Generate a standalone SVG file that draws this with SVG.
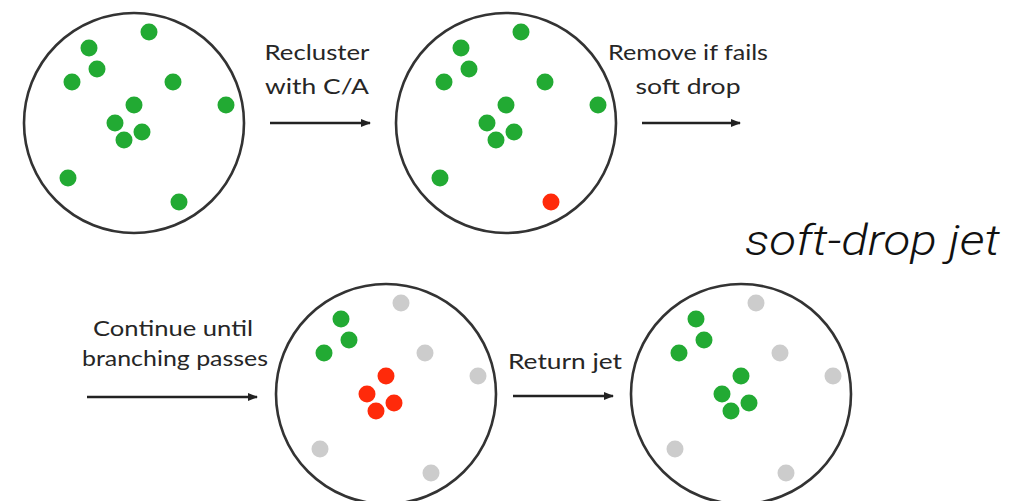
<svg xmlns="http://www.w3.org/2000/svg" width="1024" height="501" viewBox="0 0 1024 501">
<style>
.jet{fill:#fff;stroke:#333;stroke-width:2.6}
.g{fill:#22aa33}
.r{fill:#ff2a0a}
.k{fill:#cccccc}
.lbl{font-family:Lato,"Open Sans","Liberation Sans",sans-serif;font-size:22px;fill:#262626;text-anchor:middle}
.arr{stroke:#222;stroke-width:2.4;fill:none;marker-end:url(#ah)}
.title{font-family:Roboto,"Liberation Sans",sans-serif;font-weight:300;font-style:italic;font-size:42px;fill:#111}
</style>
<defs>
<marker id="ah" markerWidth="10" markerHeight="8" refX="9" refY="4" orient="auto" markerUnits="userSpaceOnUse">
<path d="M0,0 L10,4 L0,8 Z" fill="#222"/>
</marker>
</defs>
<rect width="1024" height="501" fill="#fff"/>
<g id="jet1" transform="translate(134,123)">
<circle class="jet" r="110"/>
<circle class="g" cx="15" cy="-91" r="8.5"/>
<circle class="g" cx="-45" cy="-75" r="8.5"/>
<circle class="g" cx="-37" cy="-54" r="8.5"/>
<circle class="g" cx="-62" cy="-41" r="8.5"/>
<circle class="g" cx="39" cy="-41" r="8.5"/>
<circle class="g" cx="92" cy="-18" r="8.5"/>
<circle class="g" cx="0" cy="-18" r="8.5"/>
<circle class="g" cx="-19" cy="0" r="8.5"/>
<circle class="g" cx="8" cy="9" r="8.5"/>
<circle class="g" cx="-10" cy="17" r="8.5"/>
<circle class="g" cx="-66" cy="55" r="8.5"/>
<circle class="g" cx="45" cy="79" r="8.5"/>
</g>
<g id="jet2" transform="translate(506,123)">
<circle class="jet" r="110"/>
<circle class="g" cx="15" cy="-91" r="8.5"/>
<circle class="g" cx="-45" cy="-75" r="8.5"/>
<circle class="g" cx="-37" cy="-54" r="8.5"/>
<circle class="g" cx="-62" cy="-41" r="8.5"/>
<circle class="g" cx="39" cy="-41" r="8.5"/>
<circle class="g" cx="92" cy="-18" r="8.5"/>
<circle class="g" cx="0" cy="-18" r="8.5"/>
<circle class="g" cx="-19" cy="0" r="8.5"/>
<circle class="g" cx="8" cy="9" r="8.5"/>
<circle class="g" cx="-10" cy="17" r="8.5"/>
<circle class="g" cx="-66" cy="55" r="8.5"/>
<circle class="r" cx="45" cy="79" r="8.5"/>
</g>
<g id="jet3" transform="translate(386,394)">
<circle class="jet" r="110"/>
<circle class="k" cx="15" cy="-91" r="8.5"/>
<circle class="g" cx="-45" cy="-75" r="8.5"/>
<circle class="g" cx="-37" cy="-54" r="8.5"/>
<circle class="g" cx="-62" cy="-41" r="8.5"/>
<circle class="k" cx="39" cy="-41" r="8.5"/>
<circle class="k" cx="92" cy="-18" r="8.5"/>
<circle class="r" cx="0" cy="-18" r="8.5"/>
<circle class="r" cx="-19" cy="0" r="8.5"/>
<circle class="r" cx="8" cy="9" r="8.5"/>
<circle class="r" cx="-10" cy="17" r="8.5"/>
<circle class="k" cx="-66" cy="55" r="8.5"/>
<circle class="k" cx="45" cy="79" r="8.5"/>
</g>
<g id="jet4" transform="translate(741,394)">
<circle class="jet" r="110"/>
<circle class="k" cx="15" cy="-91" r="8.5"/>
<circle class="g" cx="-45" cy="-75" r="8.5"/>
<circle class="g" cx="-37" cy="-54" r="8.5"/>
<circle class="g" cx="-62" cy="-41" r="8.5"/>
<circle class="k" cx="39" cy="-41" r="8.5"/>
<circle class="k" cx="92" cy="-18" r="8.5"/>
<circle class="g" cx="0" cy="-18" r="8.5"/>
<circle class="g" cx="-19" cy="0" r="8.5"/>
<circle class="g" cx="8" cy="9" r="8.5"/>
<circle class="g" cx="-10" cy="17" r="8.5"/>
<circle class="k" cx="-66" cy="55" r="8.5"/>
<circle class="k" cx="45" cy="79" r="8.5"/>
</g>
<g id="connectors">
<line class="arr" x1="270" y1="123" x2="370" y2="123"/>
<line class="arr" x1="642" y1="123" x2="740" y2="123"/>
<line class="arr" x1="87" y1="397" x2="257" y2="397"/>
<line class="arr" x1="513" y1="396" x2="613" y2="396"/>
</g>
<g id="labels">
<text class="lbl" x="317" y="60" textLength="105" lengthAdjust="spacingAndGlyphs">Recluster</text>
<text class="lbl" x="317" y="94" textLength="104" lengthAdjust="spacingAndGlyphs">with C/A</text>
<text class="lbl" x="688" y="60" textLength="160" lengthAdjust="spacingAndGlyphs">Remove if fails</text>
<text class="lbl" x="688" y="94" textLength="105" lengthAdjust="spacingAndGlyphs">soft drop</text>
<text class="lbl" x="173" y="336" textLength="160" lengthAdjust="spacingAndGlyphs">Continue until</text>
<text class="lbl" x="175" y="366" textLength="186" lengthAdjust="spacingAndGlyphs">branching passes</text>
<text class="lbl" x="565" y="369" textLength="114" lengthAdjust="spacingAndGlyphs">Return jet</text>
</g>
<g id="title">
<text class="title" x="745" y="255" textLength="255" lengthAdjust="spacingAndGlyphs">soft-drop jet</text>
</g>
</svg>
